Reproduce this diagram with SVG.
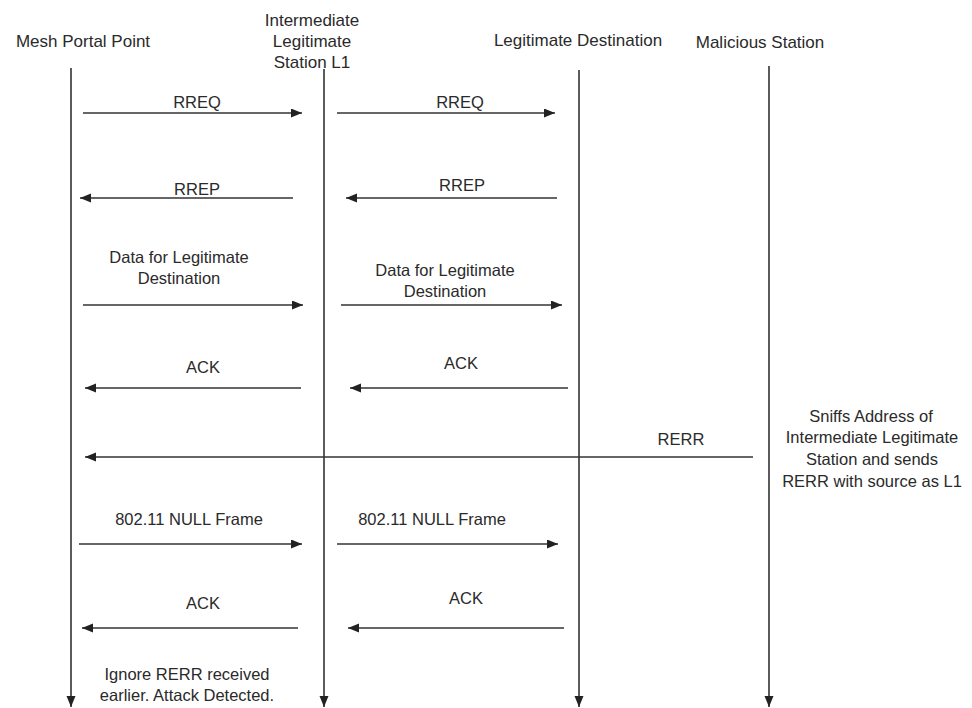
<svg xmlns="http://www.w3.org/2000/svg" width="972" height="708" viewBox="0 0 972 708">
  <style>
    text { font-family: "Liberation Sans", Arial, sans-serif; font-size: 16.5px; fill: #2a2a2a; text-anchor: middle; }
    .head { font-size: 17px; }
    .life { stroke: #333; stroke-width: 1.6; fill: none; }
    .msg { stroke: #333; stroke-width: 1.6; fill: none; marker-end: url(#arrow); }
  </style>
  <defs>
    <marker id="arrow" markerUnits="userSpaceOnUse" markerWidth="12" markerHeight="10" refX="11" refY="4.5" orient="auto">
      <path d="M0,0 L11,4.5 L0,9 Z" fill="#222"/>
    </marker>
  </defs>
  <rect width="972" height="708" fill="#fff"/>

  <!-- participants -->
  <g id="mesh-portal">
    <text class="head" x="83" y="47">Mesh Portal Point</text>
  </g>
  <g id="intermediate-l1">
    <text class="head" x="312" y="26">Intermediate</text>
    <text class="head" x="312" y="47">Legitimate</text>
    <text class="head" x="312" y="68">Station L1</text>
  </g>
  <g id="legit-dest">
    <text class="head" x="578" y="46">Legitimate Destination</text>
  </g>
  <g id="malicious">
    <text class="head" x="760" y="48">Malicious Station</text>
    <text x="871" y="422">Sniffs Address of</text>
    <text x="872" y="443">Intermediate Legitimate</text>
    <text x="872" y="465">Station and sends</text>
    <text x="872" y="487">RERR with source as L1</text>
  </g>
  <g id="detect-note">
    <text x="187" y="680">Ignore RERR received</text>
    <text x="187" y="701">earlier. Attack Detected.</text>
  </g>

  <!-- lifelines and messages -->
  <g id="connectors">
    <line class="msg" x1="71" y1="68" x2="71" y2="707"/>
    <line class="msg" x1="324" y1="69" x2="324" y2="707"/>
    <line class="msg" x1="579" y1="70" x2="579" y2="707"/>
    <line class="msg" x1="769" y1="66" x2="769" y2="707"/>

    <!-- RREQ -->
    <line class="msg" x1="83" y1="113" x2="302" y2="113"/>
    <text x="197" y="108">RREQ</text>
    <line class="msg" x1="337" y1="113" x2="555" y2="113"/>
    <text x="460" y="108">RREQ</text>

    <!-- RREP -->
    <line class="msg" x1="293" y1="198" x2="80" y2="198"/>
    <text x="197" y="195">RREP</text>
    <line class="msg" x1="557" y1="198" x2="346" y2="198"/>
    <text x="462" y="191">RREP</text>

    <!-- Data -->
    <line class="msg" x1="83" y1="305" x2="303" y2="305"/>
    <text x="179" y="263">Data for Legitimate</text>
    <text x="179" y="284">Destination</text>
    <line class="msg" x1="341" y1="305" x2="562" y2="305"/>
    <text x="445" y="276">Data for Legitimate</text>
    <text x="445" y="297">Destination</text>

    <!-- ACK -->
    <line class="msg" x1="301" y1="388" x2="85" y2="388"/>
    <text x="203" y="373">ACK</text>
    <line class="msg" x1="568" y1="388" x2="350" y2="388"/>
    <text x="461" y="369">ACK</text>

    <!-- RERR -->
    <line class="msg" x1="753" y1="457" x2="85" y2="457"/>
    <text x="681" y="445">RERR</text>

    <!-- NULL frame -->
    <line class="msg" x1="79" y1="544" x2="302" y2="544"/>
    <text x="189" y="525">802.11 NULL Frame</text>
    <line class="msg" x1="337" y1="544" x2="558" y2="544"/>
    <text x="432" y="525">802.11 NULL Frame</text>

    <!-- ACK -->
    <line class="msg" x1="298" y1="628" x2="82" y2="628"/>
    <text x="203" y="609">ACK</text>
    <line class="msg" x1="564" y1="628" x2="348" y2="628"/>
    <text x="466" y="604">ACK</text>
  </g>
</svg>
